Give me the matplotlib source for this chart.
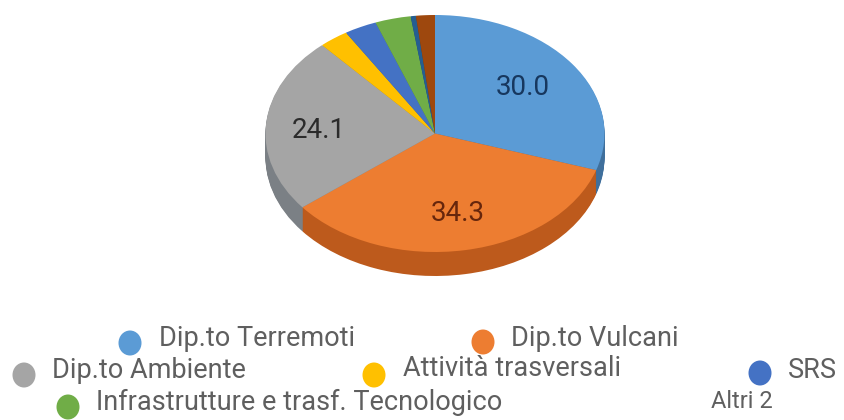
import matplotlib
matplotlib.use("Agg")
import matplotlib.pyplot as plt
from matplotlib.patches import Ellipse

categories = ["Dip.to Terremoti", "Dip.to Vulcani", "Dip.to Ambiente", "Attività trasversali",
              "SRS", "Infrastrutture e trasf. Tecnologico", "Altri", "2"]
values = [30.0, 34.3, 24.1, 2.8, 3.1, 3.4, 0.5, 1.8]
colors = ["#5b9bd5", "#ed7d31", "#a5a5a5", "#ffc000", "#4472c4", "#70ad47", "#255e91", "#9e480e"]
side_colors = ["#3f6f9c", "#bd5a1c", "#7b8085", "#bf9000", "#335593", "#548235", "#1c4670", "#773608"]
label_colors = ["#17375e", "#66260c", "#2b2b2b"]

W, H = 844, 420
cx, cy, rx, ry, depth = 435, 133.5, 169.5, 118.5, 24

fig = plt.figure(figsize=(W / 100, H / 100), dpi=100, facecolor="white")
ax = fig.add_axes([0, 0, 1, 1])

for d in range(depth, 0, -1):
    ax.pie(values, colors=side_colors, startangle=90, counterclock=False, radius=1,
           center=(0, -d / ry), wedgeprops={"linewidth": 0.6, "edgecolor": "none", "clip_on": False})

wedges, texts, autotexts = ax.pie(
    values, colors=colors, startangle=90, counterclock=False, radius=1, center=(0, 0),
    autopct=lambda p: f"{p:.1f}" if p > 10 else "", pctdistance=0.64,
    textprops={"fontfamily": "Roboto", "fontsize": 20},
    wedgeprops={"linewidth": 0, "clip_on": False})
label_nudge_px = [(0, -1), (3, 5), (-8, 3)]
for t, c, (dx, dy) in zip(autotexts, label_colors, label_nudge_px):
    t.set_color(c)
    x, y = t.get_position()
    t.set_position((x + dx / rx, y - dy / ry))

ax.set_aspect("auto")
ax.set_xlim(-cx / rx, (W - cx) / rx)
ax.set_ylim(-(H - cy) / ry, cy / ry)
ax.axis("off")

# legend, laid out in pixel coordinates
lg = fig.add_axes([0, 0, 1, 1], facecolor="none")
lg.set_xlim(0, W)
lg.set_ylim(H, 0)
lg.axis("off")
marker_xy = [(130, 343), (483, 342), (24, 375), (374, 375), (760, 373), (68, 407), None, None]
text_xy = [(159, 339), (511, 339), (52, 370), (403, 369), (788, 371), (96, 402), (711, 402), None]
font_sizes = [19.5, 19.5, 19.5, 19.5, 19.5, 19.5, 17, 17]
legend_labels = list(categories)
legend_labels[6] = "Altri 2"
for i, lab in enumerate(legend_labels):
    if marker_xy[i] is not None:
        lg.add_patch(Ellipse(marker_xy[i], 23, 25, color=colors[i], linewidth=0))
    if text_xy[i] is not None:
        lg.text(*text_xy[i], lab, fontfamily="Roboto", fontsize=font_sizes[i], color="#5f5f5f", va="center", ha="left")

fig.savefig("out.png", dpi=100, facecolor="white")
